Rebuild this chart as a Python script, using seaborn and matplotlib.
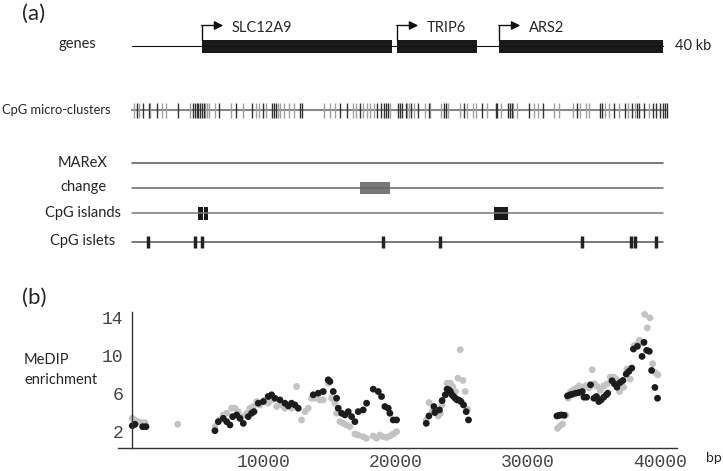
import numpy as np
import pandas as pd
import seaborn as sns
import matplotlib.pyplot as plt
from matplotlib.patches import Rectangle

# ---- panel (a): tracks, positions in kb ----
genes = ['SLC12A9', 'TRIP6', 'ARS2']
gene_start = [5.27, 19.96, 27.65]
gene_end = [19.59, 25.99, 40.0]

micro_dark = [0.35, 0.8, 1.25, 1.86, 3.46, 4.6, 4.73, 4.87, 5.0, 5.13, 5.27, 5.4,
              6.57, 7.85, 9.04, 9.84, 10.51, 10.72, 10.85, 12.64, 12.77, 15.69,
              16.23, 17.16, 18.49, 18.75, 19.02, 19.15, 19.29, 20.03, 20.22,
              20.35, 20.62, 21.01, 21.55, 22.34, 23.54, 23.67, 25.0, 26.33, 27.4,
              27.53, 28.33, 28.46, 28.6, 29.93, 30.99, 33.52, 35.25, 35.38, 36.31,
              37.11, 37.64, 38.04, 38.17, 38.57, 39.24, 39.5, 39.77, 40.03, 40.17,
              40.3]
micro_light = [0.13, 0.56, 1.38, 2.26, 2.53, 4.39, 5.53, 5.67, 5.8, 6.25, 7.45,
               8.38, 9.31, 9.58, 10.11, 10.99, 11.17, 11.44, 11.84, 12.24, 14.5,
               14.9, 15.3, 16.63, 16.89, 17.42, 17.69, 17.96, 18.22, 19.42, 20.75,
               20.88, 21.28, 22.08, 22.48, 23.28, 23.81, 24.74, 25.27, 25.67,
               25.94, 26.73, 27.8, 28.73, 28.99, 30.32, 30.59, 31.8, 32.19, 33.25,
               33.78, 34.18, 34.45, 35.64, 35.91, 36.71, 37.37, 37.9, 38.97]

change_start, change_end = [17.2], [19.4]
island_start = [4.97, 5.42, 27.3]
island_end = [5.35, 5.72, 28.3]
islets = [1.21, 4.75, 5.27, 18.9, 23.2, 33.9, 37.6, 37.9, 39.5]

# ---- panel (b): MeDIP enrichment ----
black_x = [25, 227, 808, 1060,
           6287, 6540, 6919, 7171, 7424, 7626, 7929, 8181, 8434, 8812, 9065, 9242,
           9570, 9949, 10327, 10580, 10832, 11211, 11590, 11842, 12095, 12347,
           12600, 13736, 14115, 14494, 14872, 14999, 15251, 15504, 15630, 15882,
           16135, 16388, 16640, 16892, 17145, 17523, 17776, 18281, 18660, 18912,
           19165, 19418, 19544, 19796, 20049,
           22300, 22500, 22875, 22950, 23300, 23500, 23750, 23875, 24000, 24125,
           24250, 24375, 24500, 24625, 24750, 24925, 25125, 25325, 25500,
           32200, 32375, 32550, 32750, 33000, 33200, 33375, 33625, 33875, 34125,
           34250, 34450, 34750, 35000, 35200, 35375, 35550, 35750, 35950, 36050,
           36375, 36550, 36750, 37000, 37200, 37450, 37650, 37875, 38000, 38300,
           38650, 38800, 39000, 39200, 39375, 39625, 39825]
black_y = [2.56, 2.71, 2.46, 2.46,
           2.03, 2.99, 3.34, 2.99, 2.64, 3.52, 3.70, 3.34, 2.81, 3.52, 3.88, 4.05,
           4.94, 5.12, 5.65, 5.83, 5.47, 5.29, 4.94, 4.66, 4.94, 4.76, 4.41, 5.83,
           6.0, 6.18, 7.42, 7.24, 6.18, 5.47, 4.41, 3.88, 3.70, 4.05, 3.52, 2.99,
           4.05, 4.23, 4.94, 6.43, 6.18, 5.65, 4.59, 4.41, 3.88, 3.17, 3.17,
           2.81, 3.59, 4.59, 3.95, 4.23, 5.22, 5.83, 6.43, 6.36, 6.18, 5.83, 5.65,
           5.47, 5.29, 5.29, 5.12, 4.76, 4.05, 3.17,
           3.59, 3.66, 3.70, 3.66, 5.72, 5.83, 5.90, 6.0, 6.07, 6.18, 5.58, 5.58,
           6.89, 5.47, 5.65, 5.12, 5.29, 5.58, 5.83, 6.0, 7.32, 7.0, 6.64, 7.14,
           7.35, 8.02, 8.31, 8.66, 10.68, 10.97, 9.9, 11.39, 10.54, 10.44, 8.41,
           6.61, 5.47]

gray_x = [25, 227, 480, 732, 985, 3460,
          6287, 6666, 6919, 7171, 7550, 7802, 8055, 8307, 8686, 8939, 9191, 9444,
          9696, 10075, 10327, 10580, 10958, 11337, 11590, 11842, 12095, 12474,
          12852, 13105, 13357, 13610, 13862, 14241, 14494, 14872, 15125, 15377,
          15504, 15756, 16009, 16261, 16514, 16892, 17145, 17523, 17776, 18281,
          18534, 18786, 19039, 19291, 19544, 19796, 20049,
          22300, 22500, 22750, 23000, 23200, 23375, 23500, 23700, 23875, 24125,
          24300, 24500, 24700, 24875, 25075, 25250, 25425,
          32250, 32425, 32625, 32875, 33050, 33250, 33450, 33700, 33875, 34125,
          34375, 34625, 34875, 35050, 35250, 35500, 35750, 36000, 36250, 36500,
          36700, 36950, 37250, 37500, 37750, 38050, 38250, 38450, 38700, 38850,
          39050, 39250, 39450, 39650, 39850]
gray_y = [3.34, 3.17, 2.99, 2.88, 2.88, 2.71,
          2.46, 3.17, 3.70, 3.88, 4.41, 4.41, 4.05, 3.52, 3.88, 4.41, 4.59, 5.12,
          4.76, 5.29, 4.94, 5.29, 4.59, 4.76, 4.41, 4.59, 4.41, 6.71, 3.17, 4.05,
          4.41, 5.47, 5.47, 5.29, 5.29, 7.07, 5.47, 4.94, 3.88, 2.99, 2.81, 2.64,
          2.46, 1.68, 1.57, 1.39, 1.22, 1.47, 1.22, 1.57, 1.39, 1.32, 1.47, 1.68,
          1.93,
          3.17, 5.01, 4.05, 4.16, 3.59, 3.88, 4.76, 5.83, 7.07, 7.07, 6.71, 6.18,
          7.6, 10.61, 7.35, 6.18, 4.3,
          2.28, 2.53, 2.74, 3.70, 5.47, 6.18, 6.36, 6.54, 6.78, 6.64, 6.78, 6.54,
          8.49, 7.0, 6.71, 6.29, 6.78, 7.0, 7.71, 7.71, 7.49, 6.18, 6.64, 8.56,
          7.49, 11.04, 11.15, 11.61, 11.32, 14.34, 12.92, 13.98, 9.12, 8.2, 7.95]

sns.set_style('white')
plt.rcParams['font.family'] = ['Lato', 'DejaVu Sans']

W, H = 723, 471
fig = plt.figure(figsize=(W / 100, H / 100), dpi=100)

# top panel: x in kb, y in pixel rows
top = fig.add_axes([0, 0, 1, 1])
kb_px = 13.275
top.set_xlim(-132 / kb_px, (W - 132) / kb_px)
top.set_ylim(H, 0)
top.axis('off')

# genes
top.plot([0, 40], [46, 46], color='#111', lw=0.8)
for name, s, e in zip(genes, gene_start, gene_end):
    top.add_patch(Rectangle((s, 40), e - s, 13, color='#1a1a1a', lw=0))
    top.plot([s, s], [40, 25.5], color='#111', lw=1)
    top.annotate('', xy=(s + 1.6, 25.5), xytext=(s - 0.02, 25.5),
                 arrowprops=dict(arrowstyle='-|>', color='#111', lw=1,
                                 mutation_scale=13, shrinkA=0, shrinkB=0))
    top.text(s + 2.26, 28, name, va='center', ha='left', fontsize=10.5)
top.text(40.9, 46, '40 kb', va='center', ha='left', fontsize=10.5)

# CpG micro-clusters
top.plot([0, 40.3], [110, 110], color='#888', lw=1.5)
top.vlines(micro_light, 103, 118, color='#a0a0a0', lw=1.0)
top.vlines(micro_dark, 103, 118, color='#333', lw=1.0)

# MAReX / change / islands / islets
top.plot([0, 40], [163, 163], color='#555', lw=1.1)
top.plot([0, 40], [188, 188], color='#666', lw=1.1)
for s, e in zip(change_start, change_end):
    top.add_patch(Rectangle((s, 182), e - s, 12, color='#777', lw=0))
top.plot([0, 40], [213, 213], color='#777', lw=1.1)
for s, e in zip(island_start, island_end):
    top.add_patch(Rectangle((s, 207), e - s, 13, color='#1a1a1a', lw=0))
top.plot([0, 40], [242, 242], color='#555', lw=1.1)
top.vlines(islets, 236, 248, color='#222', lw=2.5)

labels = [('genes', 77, 44), ('MAReX', 83, 163),
          ('change', 83, 187), ('CpG islands', 83, 213), ('CpG islets', 83, 241)]
for txt, x, y in labels:
    fig.text(x / W, 1 - y / H, txt, ha='center', va='center', fontsize=10.5)
fig.text(2 / W, 1 - 110 / H, 'CpG micro-clusters', ha='left', va='center',
         fontsize=9.3)

fig.text(22 / W, 1 - 14 / H, '(a)', ha='left', va='center', fontsize=16)
fig.text(22 / W, 1 - 298 / H, '(b)', ha='left', va='center', fontsize=16)
fig.text(24 / W, 1 - 370 / H, 'MeDIP\nenrichment', ha='left', va='center',
         fontsize=10.5, linespacing=1.5)
fig.text(706 / W, 1 - 458 / H, 'bp', ha='left', va='center', fontsize=10)

# bottom panel
df = pd.DataFrame({
    'bp': gray_x + black_x,
    'enrichment': gray_y + black_y,
    'series': ['gray'] * len(gray_x) + ['black'] * len(black_x),
})
ax = fig.add_axes([118 / W, 1 - 448 / H, 559 / W, 136 / H])
ax.patch.set_alpha(0)
sns.scatterplot(data=df, x='bp', y='enrichment', hue='series',
                palette={'gray': '#c3c3c3', 'black': '#1c1c1c'}, s=24,
                edgecolor='none', legend=False, ax=ax, clip_on=False)
ax.set_xlim(-1060, 41300)
ax.set_ylim(0.2, 14.6)
ax.set_xlabel('')
ax.set_ylabel('')
for side in ['top', 'right']:
    ax.spines[side].set_visible(False)
ax.spines['left'].set_position(('data', 0))
for side in ['left', 'bottom']:
    ax.spines[side].set_color('#333')
    ax.spines[side].set_linewidth(1)
ax.set_xticks([10000, 20000, 30000, 40000])
ax.set_xticks(np.arange(2000, 41000, 2000), minor=True)
ax.set_yticks([2, 6, 10, 14])
ax.tick_params(direction='in', colors='#333', labelcolor='#444', length=4,
               width=0.8, pad=6, labelsize=13)
ax.tick_params(axis='x', pad=4)
ax.tick_params(which='minor', direction='in', length=2.5, width=0.6, color='#555')
for lab in ax.get_xticklabels() + ax.get_yticklabels():
    lab.set_fontfamily('Liberation Mono')

fig.savefig('out.png', dpi=100)
